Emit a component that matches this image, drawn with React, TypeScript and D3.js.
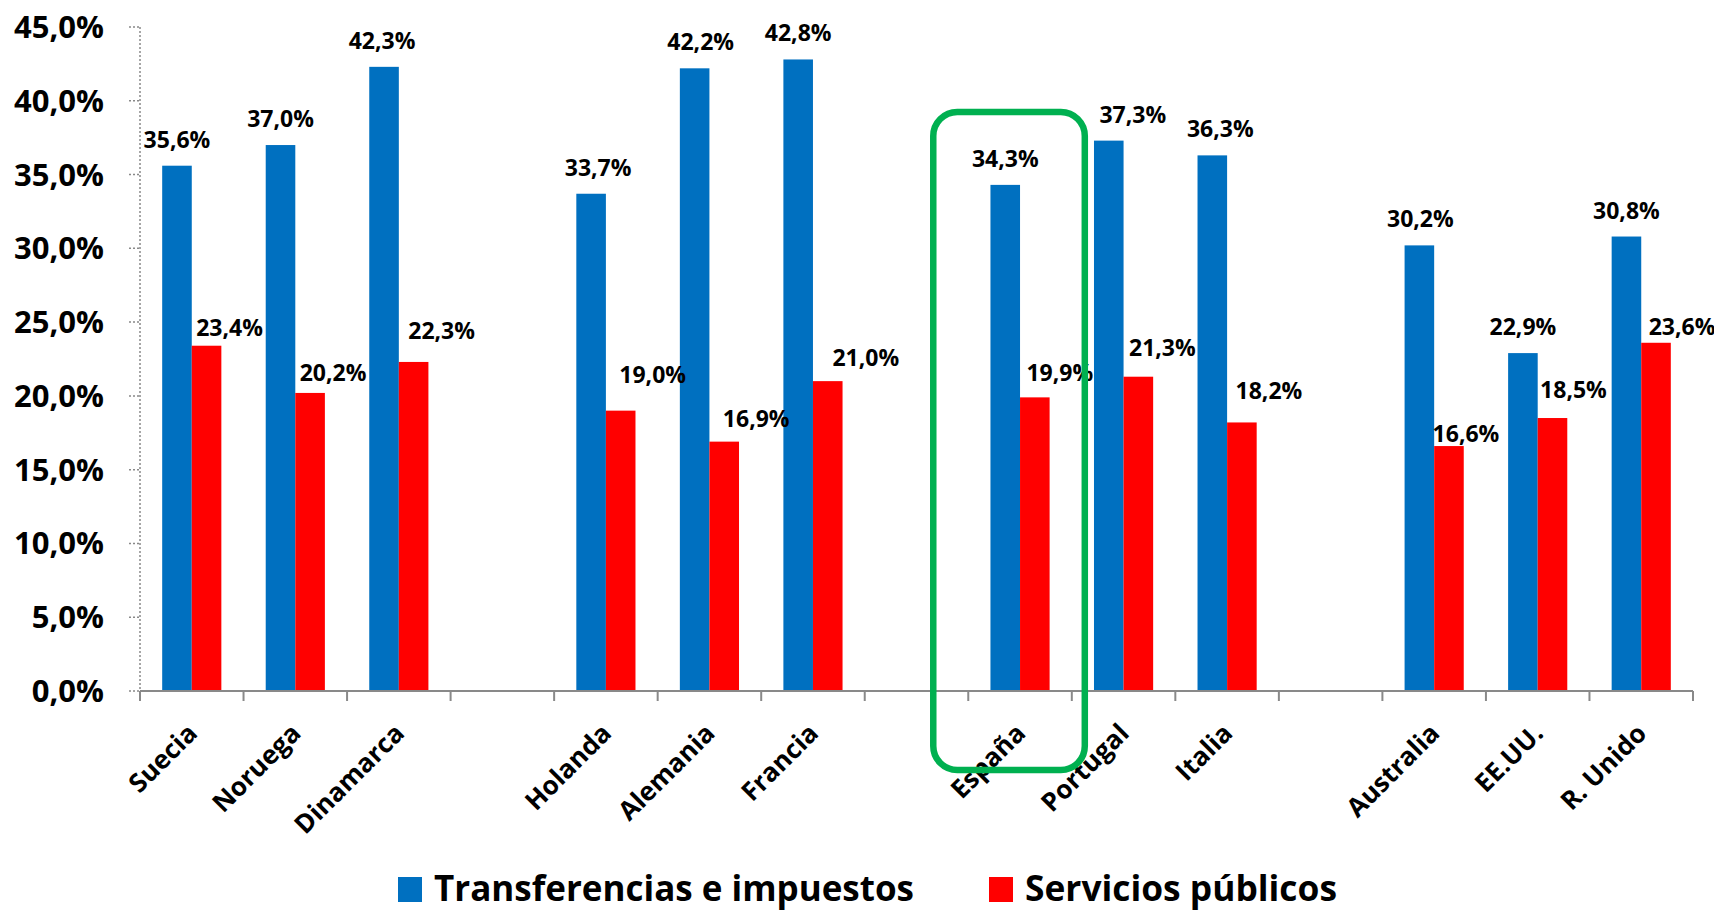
import React, { useEffect, useRef } from 'react';
import * as d3 from 'd3';

// Countries (empty slots are the gaps between groups)
const categories = [
  'Suecia', 'Noruega', 'Dinamarca', '',
  'Holanda', 'Alemania', 'Francia', '',
  'España', 'Portugal', 'Italia', '',
  'Australia', 'EE.UU.', 'R. Unido',
];

const transferencias: (number | null)[] = [35.6, 37.0, 42.3, null, 33.7, 42.2, 42.8, null, 34.3, 37.3, 36.3, null, 30.2, 22.9, 30.8];
const servicios: (number | null)[] = [23.4, 20.2, 22.3, null, 19.0, 16.9, 21.0, null, 19.9, 21.3, 18.2, null, 16.6, 18.5, 23.6];

const yTicks = [0, 5, 10, 15, 20, 25, 30, 35, 40, 45];

const seriesNames = ['Transferencias e impuestos', 'Servicios públicos'];
const seriesColors = ['#0070C0', '#FF0000'];

// hand-placed label nudges, as in the original chart
const blueNudge = [[0, 0], [0, 0], [-2, 0], [0, 0], [7, 0], [6, 0], [0, 0], [0, 0], [0, 0], [24, 0], [8, 0], [0, 0], [1, 0], [0, 0], [0, 0]];
const redNudge = [[23, -18], [23, -20], [28, -31], [0, 0], [32, -36], [32, -23], [38, -23], [0, 0], [25, -24], [24, -29], [27, -31], [0, 0], [17, -12], [21, -28], [26, -16]];

const fmt = (v: number) => v.toFixed(1).replace('.', ',') + '%';

const W = 1714;
const H = 910;
const FONT = '"Open Sans", "DejaVu Sans", sans-serif';

const App: React.FC = () => {
  const ref = useRef<SVGSVGElement | null>(null);

  useEffect(() => {
    if (!ref.current) return;
    const svg = d3.select(ref.current);
    svg.selectAll('*').remove();

    const left = 140;
    const right = 1693;
    const top = 27;
    const bottom = 691;

    const x = d3.scaleBand<number>()
      .domain(categories.map((_, i) => i))
      .range([left, right])
      .padding(0);

    const xs = d3.scaleBand<number>()
      .domain([0, 1])
      .range([0, x.bandwidth()])
      .paddingInner(0)
      .paddingOuter(0.75);

    const y = d3.scaleLinear().domain([0, 45]).range([bottom, top]);

    const grey = '#898989';

    // y axis (dotted)
    svg.append('line')
      .attr('x1', left).attr('x2', left)
      .attr('y1', y(45)).attr('y2', y(0))
      .attr('stroke', grey).attr('stroke-width', 1.5)
      .attr('stroke-dasharray', '2,2');

    svg.selectAll('.ytick')
      .data(yTicks)
      .enter()
      .append('line')
      .attr('x1', left - 11).attr('x2', left)
      .attr('y1', d => y(d)).attr('y2', d => y(d))
      .attr('stroke', grey).attr('stroke-width', 1.5)
      .attr('stroke-dasharray', '2,2');

    svg.selectAll('.ylabel')
      .data(yTicks)
      .enter()
      .append('text')
      .attr('x', 104)
      .attr('y', d => y(d) + 11)
      .attr('text-anchor', 'end')
      .attr('font-family', FONT)
      .attr('font-weight', 700)
      .attr('font-size', 31)
      .attr('fill', '#000')
      .text(d => d.toFixed(1).replace('.', ',') + '%');

    // bars
    const series = [transferencias, servicios];
    series.forEach((vals, s) => {
      svg.append('g')
        .selectAll('rect')
        .data(vals.map((v, i) => ({ v, i })).filter(d => d.v !== null))
        .enter()
        .append('rect')
        .attr('x', d => (x(d.i) || 0) + (xs(s) || 0))
        .attr('y', d => y(d.v as number))
        .attr('width', xs.bandwidth())
        .attr('height', d => y(0) - y(d.v as number))
        .attr('fill', seriesColors[s]);
    });

    // x axis
    svg.append('line')
      .attr('x1', left).attr('x2', right)
      .attr('y1', bottom).attr('y2', bottom)
      .attr('stroke', grey).attr('stroke-width', 2);

    const boundaries = d3.range(categories.length + 1);
    svg.selectAll('.xtick')
      .data(boundaries)
      .enter()
      .append('line')
      .attr('x1', d => left + d * x.step())
      .attr('x2', d => left + d * x.step())
      .attr('y1', bottom).attr('y2', bottom + 10)
      .attr('stroke', grey).attr('stroke-width', 2);

    // category labels
    svg.selectAll('.xlabel')
      .data(categories.map((c, i) => ({ c, i })).filter(d => d.c !== ''))
      .enter()
      .append('text')
      .attr('transform', d => `translate(${(x(d.i) || 0) + x.bandwidth() / 2 + 7},${bottom + 44}) rotate(-45)`)
      .attr('text-anchor', 'end')
      .attr('font-family', FONT)
      .attr('font-weight', 700)
      .attr('font-size', 26)
      .attr('fill', '#000')
      .text(d => d.c);

    // value labels
    series.forEach((vals, s) => {
      const nudge = s === 0 ? blueNudge : redNudge;
      svg.append('g')
        .selectAll('text')
        .data(vals.map((v, i) => ({ v, i })).filter(d => d.v !== null))
        .enter()
        .append('text')
        .attr('x', d => (x(d.i) || 0) + (xs(s) || 0) + xs.bandwidth() / 2 + nudge[d.i][0])
        .attr('y', d => s === 0
          ? y(d.v as number) - 18
          : y(d.v as number) + nudge[d.i][1] + 8)
        .attr('text-anchor', 'middle')
        .attr('font-family', FONT)
        .attr('font-weight', 700)
        .attr('font-size', 23)
        .attr('fill', '#000')
        .text(d => fmt(d.v as number));
    });

    // highlight box around España
    const iEsp = categories.indexOf('España');
    const bx = (x(iEsp) || 0) - 35;
    svg.append('rect')
      .attr('x', bx)
      .attr('y', 112)
      .attr('width', x.bandwidth() + 48)
      .attr('height', 658)
      .attr('rx', 24)
      .attr('fill', 'none')
      .attr('stroke', '#00B050')
      .attr('stroke-width', 6.5);

    // legend
    const legendX = [398, 989];
    const legendLen = [480, 312];
    seriesNames.forEach((name, s) => {
      svg.append('rect')
        .attr('x', legendX[s]).attr('y', 877)
        .attr('width', 24).attr('height', 25)
        .attr('fill', seriesColors[s]);
      svg.append('text')
        .attr('x', legendX[s] + 36)
        .attr('y', 901)
        .attr('font-family', FONT)
        .attr('font-weight', 700)
        .attr('font-size', 35)
        .attr('textLength', legendLen[s])
        .attr('lengthAdjust', 'spacingAndGlyphs')
        .attr('fill', '#000')
        .text(name);
    });
  }, []);

  return (
    <svg
      ref={ref}
      width={W}
      height={H}
      style={{ position: 'absolute', left: 0, top: 0, background: '#fff' }}
    />
  );
};

export default App;
